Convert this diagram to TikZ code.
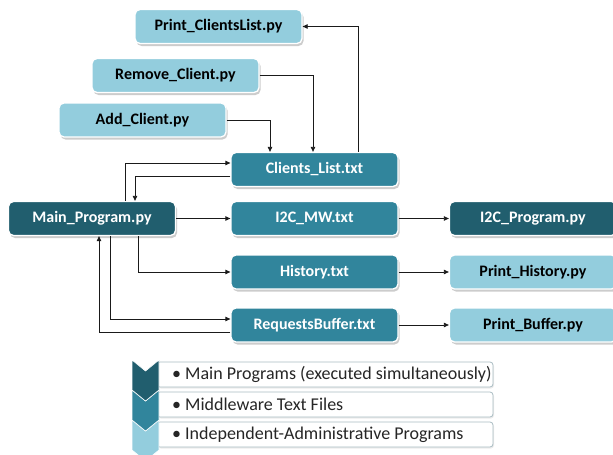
\documentclass[tikz,border=0pt]{standalone}
\usepackage{fontspec}
\setmainfont{Carlito}
\usetikzlibrary{shadows,arrows.meta}
\definecolor{cdark}{HTML}{215E6E}
\definecolor{cmid}{HTML}{31859C}
\definecolor{clight}{HTML}{93CDDD}
\definecolor{cline}{HTML}{1A1A1A}
\definecolor{lgborder}{HTML}{A9BCC2}
\tikzset{
  box/.style={draw=white, line width=1.3pt, rounded corners=5pt,
    minimum width=167pt, minimum height=34pt, inner sep=0pt,
    font=\fontsize{16}{18}\selectfont\bfseries,
    drop shadow={shadow xshift=1.5pt, shadow yshift=-2.5pt, fill=black!25, opacity=0.8}},
  darkbox/.style={box, fill=cdark, text=white},
  midbox/.style={box, fill=cmid, text=white},
  lightbox/.style={box, fill=clight, text=black},
  arr/.style={draw=cline, line width=0.8pt, -{Triangle[length=5pt,width=4.5pt]}},
  lgbox/.style={draw=lgborder, line width=0.8pt, fill=white, rounded corners=3pt,
    minimum width=336pt, minimum height=25pt, inner sep=0pt,
    drop shadow={shadow xshift=1pt, shadow yshift=-1.5pt, fill=black!15}},
  lgtext/.style={anchor=west, inner sep=0pt, text=black!85,
    font=\fontsize{18}{20}\selectfont},
}
\begin{document}
\begin{tikzpicture}[x=1pt,y=-1pt]
\useasboundingbox (0,0) rectangle (613,455);
% boxes
\node[lightbox] (PCL) at (218.5,26.5) {Print\_ClientsList.py};
\node[lightbox] (RC) at (175.5,75.5) {Remove\_Client.py};
\node[lightbox] (AC) at (142.5,120) {Add\_Client.py};
\node[midbox] (CL) at (314.5,169.5) {Clients\_List.txt};
\node[darkbox] (MP) at (92,218.5) {Main\_Program.py};
\node[midbox] (MW) at (314.5,218.5) {I2C\_MW.txt};
\node[darkbox] (IP) at (533,218.5) {I2C\_Program.py};
\node[midbox] (HI) at (314.5,272) {History.txt};
\node[lightbox] (PH) at (533,272) {Print\_History.py};
\node[midbox] (RB) at (314.5,325) {RequestsBuffer.txt};
\node[lightbox] (PB) at (533,325) {Print\_Buffer.py};
% connectors
\draw[arr] ([xshift=43.5pt]CL.north) |- (PCL.east);
\draw[arr] (RC.east) -| ([xshift=-1.5pt]CL.north);
\draw[arr] (AC.east) -| ([xshift=-44.5pt]CL.north);
\draw[arr] ([xshift=33pt]MP.north) |- ([yshift=6.5pt]CL.west);
\draw[arr] ([yshift=-6.5pt]CL.west) -| ([xshift=43pt]MP.north);
\draw[arr] (MP.east) -- (MW.west);
\draw[arr] (MW.east) -- (IP.west);
\draw[arr] ([xshift=46pt]MP.south) |- (HI.west);
\draw[arr] ([xshift=18pt]MP.south) |- ([yshift=6pt]RB.west);
\draw[arr] ([yshift=-7pt]RB.west) -| ([xshift=7pt]MP.south);
\draw[arr] (HI.east) -- (PH.west);
\draw[arr] (RB.east) -- (PB.west);
% legend
\node[lgbox] (L1) at (325,374.5) {};
\node[lgbox] (L2) at (325,404.5) {};
\node[lgbox] (L3) at (325,434.5) {};
\node[lgtext] (T1) at (172,374.5) {•\hspace{4pt}Main Programs (executed simultaneously)};
\node[lgtext] (T2) at (172,404.5) {•\hspace{4pt}Middleware Text Files};
\node[lgtext] (T3) at (172,434.5) {•\hspace{4pt}Independent-Administrative Programs};
\foreach \T/\c in {420/clight, 390/cmid, 360/cdark}{
  \fill[\c, draw=white, line width=0.6pt] (132,\T) -- (145.5,\T+11) -- (159,\T) -- (159,\T+30) -- (145.5,\T+41) -- (132,\T+30) -- cycle;
}
\end{tikzpicture}
\end{document}
